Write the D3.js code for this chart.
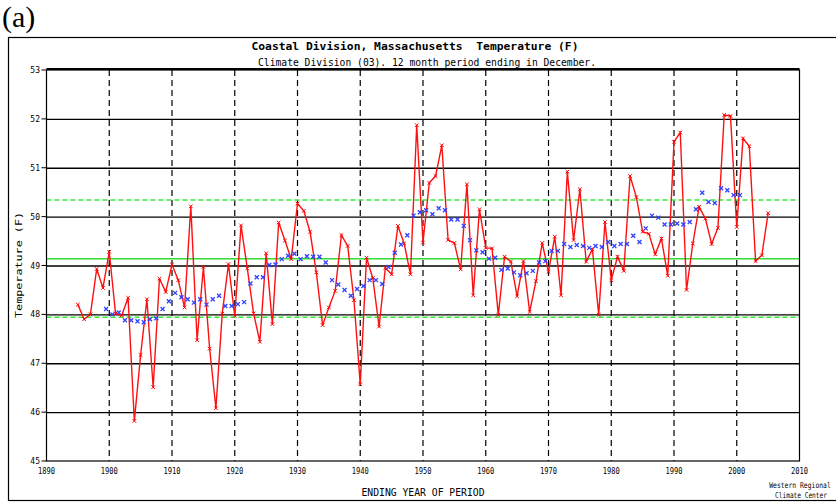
<!DOCTYPE html>
<html>
<head>
<meta charset="utf-8">
<script src="https://cdn.jsdelivr.net/npm/d3@7"></script>
<style>
  body { margin: 0; background: #fff; }
  text { font-family: "DejaVu Sans Mono", monospace; fill: #000; }
</style>
</head>
<body>
<div id="chart"></div>
<script>
// annual values, 1895 - 2005
const years = d3.range(1895, 2006);
const temps = [
  48.20, 47.90, 48.00, 48.93, 48.54, 49.28, 48.02, 47.98, 48.34, 45.82,
  47.17, 48.31, 46.51, 48.73, 48.46, 49.02, 48.70, 48.14, 50.21, 47.47,
  48.97, 47.30, 46.08, 48.01, 49.03, 47.97, 49.82, 48.94, 48.02, 47.44,
  49.25, 47.80, 49.88, 49.51, 49.13, 50.27, 50.12, 49.69, 48.86, 47.78,
  48.14, 48.48, 49.62, 49.40, 48.29, 46.57, 49.16, 48.74, 47.75, 48.95,
  48.82, 49.81, 49.45, 48.82, 51.87, 49.47, 50.69, 50.83, 51.46, 49.52,
  49.46, 48.92, 50.66, 48.39, 50.15, 49.36, 49.35, 47.99, 49.18, 49.08,
  48.37, 49.09, 48.05, 48.68, 49.46, 48.87, 49.59, 48.39, 50.92, 49.52,
  50.56, 49.08, 49.33, 47.99, 49.89, 48.70, 49.18, 48.89, 50.83, 50.40,
  49.69, 49.65, 49.23, 49.55, 48.79, 51.53, 51.72, 48.50, 49.45, 50.20,
  49.96, 49.44, 49.77, 52.08, 52.06, 49.79, 51.60, 51.44, 49.09, 49.21,
  50.07
];

// 10 year running values (blue marks), plotted at window centres
const meanYears = d3.range(1899.5, 2001, 1);
const means = [
  48.11, 48.00, 48.04, 47.88, 47.88, 47.86, 47.84, 47.90, 47.92, 48.11,
  48.27, 48.44, 48.35, 48.31, 48.24, 48.31, 48.20, 48.31, 48.38, 48.17,
  48.17, 48.21, 48.25, 48.63, 48.76, 48.76, 49.01, 49.02, 49.13, 49.20,
  49.24, 49.13, 49.19, 49.18, 49.18, 49.06, 48.70, 48.61, 48.50, 48.38,
  48.52, 48.58, 48.70, 48.70, 48.62, 48.97, 49.26, 49.43, 49.62, 50.02,
  50.09, 50.13, 50.05, 50.17, 50.13, 49.94, 49.94, 49.81, 49.52, 49.31,
  49.27, 49.14, 49.16, 48.91, 48.94, 48.86, 48.80, 48.84, 48.89, 49.06,
  49.09, 49.30, 49.30, 49.44, 49.38, 49.42, 49.40, 49.36, 49.40, 49.38,
  49.48, 49.40, 49.44, 49.44, 49.61, 49.48, 49.76, 50.02, 49.98, 49.84,
  49.84, 49.86, 49.84, 49.89, 50.15, 50.49, 50.30, 50.28, 50.58, 50.54,
  50.44, 50.44
];

// long term mean and +/- one std dev (green lines)
const meanLine = 49.14;
const sdLines = [50.34, 47.94];

const xTicks = [1890, 1900, 1910, 1920, 1930, 1940, 1950, 1960, 1970, 1980, 1990, 2000, 2010];
const yTicks = [45, 46, 47, 48, 49, 50, 51, 52, 53];

let width = 836, height = 503;
let svg = d3.select("#chart").append("svg")
  .attr("width", width)
  .attr("height", height);

let x = d3.scaleLinear().domain([1890, 2010]).range([46.5, 799.5]);
let y = d3.scaleLinear().domain([45, 53]).range([461, 70]);

// panel letter and outer frame
svg.append("text")
  .attr("x", 2).attr("y", 27)
  .style("font-family", "'Liberation Serif', 'Times New Roman', serif")
  .style("font-size", "30px")
  .text("(a)");

svg.append("rect")
  .attr("x", 8.5).attr("y", 37.5)
  .attr("width", 840).attr("height", 463)
  .attr("fill", "none").attr("stroke", "#000").attr("stroke-width", 1.2);

// titles
svg.append("text")
  .attr("x", 415).attr("y", 50)
  .attr("text-anchor", "middle")
  .attr("textLength", 327).attr("lengthAdjust", "spacingAndGlyphs")
  .style("font-size", "11px").style("font-weight", "bold")
  .style("white-space", "pre")
  .text("Coastal Division, Massachusetts  Temperature (F)");

svg.append("text")
  .attr("x", 427).attr("y", 66)
  .attr("text-anchor", "middle")
  .attr("textLength", 338).attr("lengthAdjust", "spacingAndGlyphs")
  .style("font-size", "10px")
  .text("Climate Division (03). 12 month period ending in December.");

// horizontal grid
svg.append("g").selectAll("line")
  .data(yTicks.filter(d => d > 45 && d < 53))
  .enter().append("line")
  .attr("x1", x(1890)).attr("x2", x(2010))
  .attr("y1", d => y(d) + 0.5).attr("y2", d => y(d) + 0.5)
  .attr("stroke", "#000").attr("stroke-width", 1.3);

// vertical dashed decade lines
svg.append("g").selectAll("line")
  .data(xTicks.filter(d => d > 1890 && d < 2010))
  .enter().append("line")
  .attr("x1", d => x(d)).attr("x2", d => x(d))
  .attr("y1", y(53)).attr("y2", y(45))
  .attr("stroke", "#000").attr("stroke-width", 1.2)
  .attr("stroke-dasharray", "6,4");

// green mean / std dev lines
svg.append("line")
  .attr("x1", x(1890)).attr("x2", x(2010))
  .attr("y1", y(meanLine)).attr("y2", y(meanLine))
  .attr("stroke", "#33dd33").attr("stroke-width", 1.5);

svg.append("g").selectAll("line")
  .data(sdLines)
  .enter().append("line")
  .attr("x1", x(1890)).attr("x2", x(2010))
  .attr("y1", d => y(d)).attr("y2", d => y(d))
  .attr("stroke", "#33ee33").attr("stroke-width", 1.5)
  .attr("stroke-dasharray", "5,3");

// plot box
svg.append("rect")
  .attr("x", x(1890)).attr("y", y(53))
  .attr("width", x(2010) - x(1890)).attr("height", y(45) - y(53))
  .attr("fill", "none").attr("stroke", "#000").attr("stroke-width", 1.2);
svg.append("line")
  .attr("x1", x(1890)).attr("x2", x(2010))
  .attr("y1", y(53) - 1).attr("y2", y(53) - 1)
  .attr("stroke", "#000").attr("stroke-width", 2);

// y ticks + labels
svg.append("g").selectAll("line")
  .data(yTicks)
  .enter().append("line")
  .attr("x1", x(1890) - 5).attr("x2", x(1890))
  .attr("y1", d => y(d)).attr("y2", d => y(d))
  .attr("stroke", "#000");

svg.append("g").selectAll("text")
  .data(yTicks)
  .enter().append("text")
  .attr("x", 40).attr("y", d => y(d) + 3)
  .attr("text-anchor", "end")
  .style("font-size", "8px")
  .text(d => d);

// x labels
svg.append("g").selectAll("text")
  .data(xTicks)
  .enter().append("text")
  .attr("x", d => x(d)).attr("y", 474)
  .attr("text-anchor", "middle")
  .attr("textLength", 17).attr("lengthAdjust", "spacingAndGlyphs")
  .style("font-size", "8px")
  .text(d => d);

// axis titles
svg.append("text")
  .attr("transform", "translate(22,265) rotate(-90)")
  .attr("text-anchor", "middle")
  .attr("textLength", 106).attr("lengthAdjust", "spacingAndGlyphs")
  .style("font-size", "9px")
  .text("Temperature (F)");

svg.append("text")
  .attr("x", 423).attr("y", 496)
  .attr("text-anchor", "middle")
  .attr("textLength", 123).attr("lengthAdjust", "spacingAndGlyphs")
  .style("font-size", "10px")
  .text("ENDING YEAR OF PERIOD");

// credit, squeezed horizontally to fit the corner
svg.append("text")
  .attr("transform", "translate(800,488) scale(0.8,1)")
  .attr("text-anchor", "middle")
  .style("font-size", "8px")
  .text("Western Regional");
svg.append("text")
  .attr("transform", "translate(801,498) scale(0.77,1)")
  .attr("text-anchor", "middle")
  .style("font-size", "8px")
  .text("Climate Center");

// annual line
let annual = years.map((yr, i) => ({ year: yr, value: temps[i] }));
svg.append("path")
  .datum(annual)
  .attr("fill", "none")
  .attr("stroke", "#ff1010")
  .attr("stroke-width", 1.4)
  .attr("d", d3.line().x(d => x(d.year)).y(d => y(d.value)));

// small crosses on each annual point
const cross = (s) => `M${-s},${-s}L${s},${s}M${-s},${s}L${s},${-s}`;
svg.append("g").selectAll("path")
  .data(annual)
  .enter().append("path")
  .attr("transform", d => `translate(${x(d.year)},${y(d.value)})`)
  .attr("d", cross(1.8))
  .attr("stroke", "#ff0000").attr("stroke-width", 1);

// running mean marks
let running = meanYears.map((yr, i) => ({ year: yr, value: means[i] }));
svg.append("g").selectAll("path")
  .data(running)
  .enter().append("path")
  .attr("transform", d => `translate(${x(d.year)},${y(d.value)})`)
  .attr("d", cross(2))
  .attr("stroke", "#3040ff").attr("stroke-width", 1.3);
</script>
</body>
</html>
